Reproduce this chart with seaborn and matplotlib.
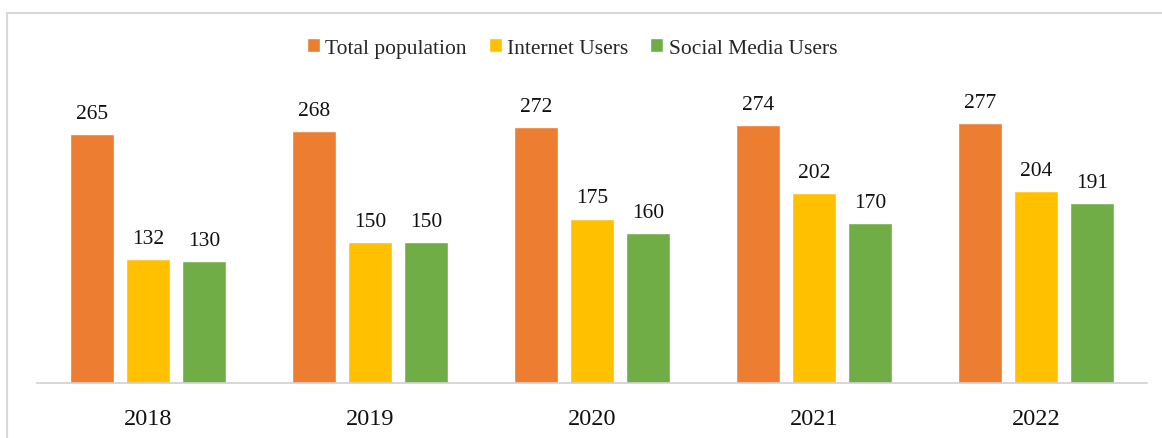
import seaborn as sns
import pandas as pd
import matplotlib.pyplot as plt
from matplotlib.patches import Rectangle

years = ['2018', '2019', '2020', '2021', '2022']
series = ['Total population', 'Internet Users', 'Social Media Users']
total_population = [265, 268, 272, 274, 277]
internet_users = [132, 150, 175, 202, 204]
social_media_users = [130, 150, 160, 170, 191]
colors = ['#ED7D31', '#FFC000', '#70AD47']

df = pd.DataFrame({
    'year': years * 3,
    'series': [s for s in series for _ in years],
    'value': total_population + internet_users + social_media_users,
})

sns.set_style('white')
plt.rcParams['font.family'] = ['Liberation Serif', 'DejaVu Serif']

W, H = 1162, 439
fig = plt.figure(figsize=(W / 100, H / 100), dpi=100)
ax = fig.add_axes([37 / W, (H - 384) / H, (1147 - 37) / W, (384 - 40) / H])

sns.barplot(data=df, x='year', y='value', hue='series', hue_order=series,
            palette=colors, width=0.756, gap=0.21, saturation=1, ax=ax)

for c in ax.containers:
    ax.bar_label(c, padding=8, fontsize=15.5, color='#111111')

handles, labels = ax.get_legend_handles_labels()
ax.get_legend().remove()
fig.legend(handles, labels, loc='center', bbox_to_anchor=(572 / W, 1 - 49 / H),
           ncol=3, frameon=False, fontsize=15.5, handlelength=0.62, handleheight=0.62,
           handletextpad=0.25, columnspacing=1.0)

ax.set_ylim(0, 366)
ax.set_xlim(-0.5, 4.5)
ax.set_xlabel('')
ax.set_ylabel('')
ax.set_yticks([])
ax.tick_params(axis='x', length=0, pad=18, labelsize=17.5, labelcolor='#111111')
for s in ['top', 'left', 'right']:
    ax.spines[s].set_visible(False)
ax.spines['bottom'].set_color('#d0d0d0')
ax.spines['bottom'].set_linewidth(1.2)

fig.patches.append(Rectangle((7 / W, -0.1), 1.2, 1.1 - 14 / H, transform=fig.transFigure,
                             fill=False, edgecolor='#d9d9d9', linewidth=1.5))

fig.savefig('out.png', dpi=100)
